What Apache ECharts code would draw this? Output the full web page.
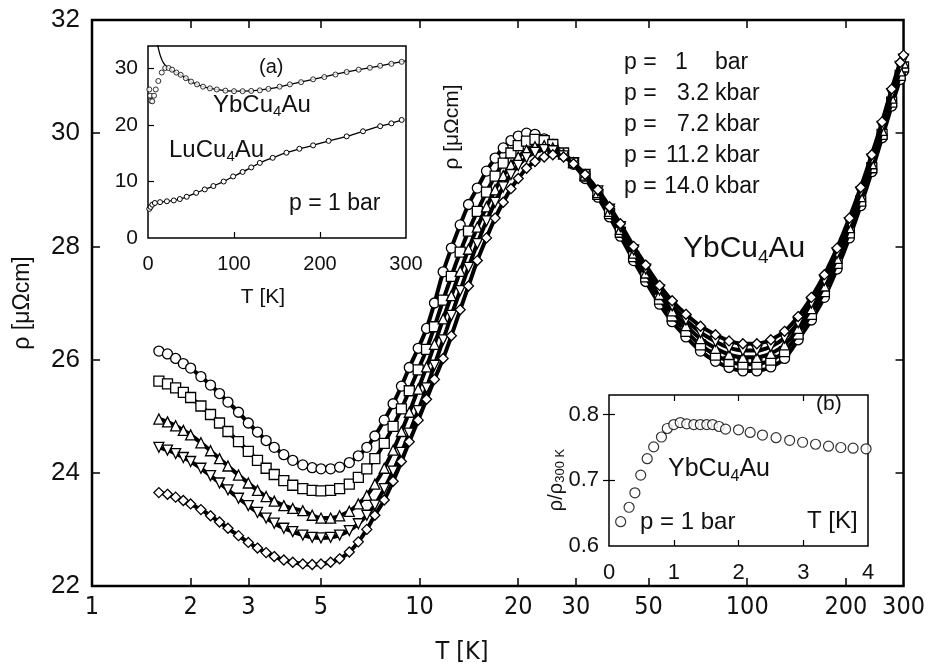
<!DOCTYPE html>
<html>
<head>
<meta charset="utf-8">
<script src="https://cdn.jsdelivr.net/npm/echarts@6/dist/echarts.min.js"></script>
<style>
html, body { margin: 0; padding: 0; background: #fff; }
#chart { width: 928px; height: 669px; }
</style>
</head>
<body>
<div id="chart"></div>
<script>
// main panel: resistivity vs T (log) for five pressures
const temps = [
  1.6, 1.7, 1.8, 1.9, 2.0, 2.15, 2.3, 2.45, 2.6, 2.8,
  3.0, 3.2, 3.4, 3.6, 3.85, 4.1, 4.4, 4.7, 5.0, 5.35,
  5.7, 6.1, 6.5, 6.9, 7.3, 7.8, 8.3, 8.8, 9.3, 9.9,
  10.5, 11.1, 11.8, 12.5, 13.3, 14.1, 15.0, 16.0, 17.0, 18.0,
  19.0, 20.0, 21.2, 22.5, 24, 25.5, 27.5, 29.5, 32, 35,
  38, 41, 45, 49, 54, 59, 65, 72, 80, 88,
  97, 107, 118, 130, 143, 157, 172, 188, 205, 222,
  240, 258, 276, 293, 300
];
const rho1bar = [
  26.15, 26.10, 26.02, 25.93, 25.85, 25.70, 25.55, 25.40, 25.25, 25.07,
  24.88, 24.72, 24.57, 24.45, 24.32, 24.22, 24.14, 24.09, 24.07, 24.07,
  24.10, 24.18, 24.30, 24.45, 24.65, 24.93, 25.22, 25.53, 25.86, 26.20,
  26.55, 27.00, 27.55, 27.97, 28.38, 28.74, 29.03, 29.33, 29.56, 29.74,
  29.87, 29.95, 30.00, 29.98, 29.90, 29.80, 29.63, 29.45, 29.20, 28.87,
  28.52, 28.18, 27.75, 27.38, 26.98, 26.67, 26.40, 26.15, 25.97, 25.86,
  25.80, 25.80, 25.87, 26.02, 26.35, 26.70, 27.10, 27.60, 28.15, 28.72,
  29.32, 29.92, 30.48, 30.95, 31.10
];
const rho3kbar = [
  25.62, 25.57, 25.50, 25.42, 25.33, 25.18, 25.03, 24.88, 24.73, 24.55,
  24.38, 24.22, 24.08, 23.97, 23.86, 23.78, 23.72, 23.69, 23.68, 23.69,
  23.72, 23.80, 23.92, 24.07, 24.25, 24.52, 24.82, 25.13, 25.45, 25.82,
  26.18, 26.58, 27.05, 27.47, 27.90, 28.27, 28.62, 28.96, 29.24, 29.47,
  29.65, 29.78, 29.86, 29.89, 29.87, 29.80, 29.65, 29.48, 29.24, 28.92,
  28.58, 28.25, 27.82, 27.46, 27.07, 26.77, 26.50, 26.26, 26.08, 25.97,
  25.92, 25.92, 25.99, 26.14, 26.45, 26.80, 27.20, 27.70, 28.24, 28.80,
  29.39, 29.98, 30.55, 31.02, 31.17
];
const rho7kbar = [
  24.95, 24.90, 24.83, 24.75, 24.67, 24.53, 24.39, 24.25, 24.12, 23.96,
  23.82, 23.69, 23.58, 23.50, 23.42, 23.37, 23.33, 23.25, 23.20, 23.20,
  23.24, 23.32, 23.45, 23.60, 23.80, 24.08, 24.40, 24.73, 25.07, 25.48,
  25.87, 26.27, 26.72, 27.13, 27.56, 27.95, 28.34, 28.70, 29.00, 29.25,
  29.44, 29.58, 29.70, 29.76, 29.78, 29.74, 29.63, 29.48, 29.26, 28.95,
  28.62, 28.30, 27.88, 27.53, 27.15, 26.86, 26.60, 26.37, 26.20, 26.09,
  26.04, 26.04, 26.11, 26.26, 26.55, 26.90, 27.30, 27.79, 28.33, 28.88,
  29.46, 30.05, 30.62, 31.10, 31.24
];
const rho11kbar = [
  24.45, 24.40, 24.34, 24.27, 24.20, 24.08, 23.95, 23.82, 23.70, 23.55,
  23.42, 23.30, 23.20, 23.11, 23.02, 22.96, 22.90, 22.86, 22.85, 22.86,
  22.90, 22.98, 23.10, 23.25, 23.43, 23.72, 24.03, 24.36, 24.70, 25.10,
  25.50, 25.90, 26.35, 26.78, 27.22, 27.63, 28.05, 28.45, 28.78, 29.05,
  29.27, 29.43, 29.57, 29.66, 29.71, 29.69, 29.60, 29.47, 29.27, 28.98,
  28.66, 28.35, 27.94, 27.60, 27.23, 26.95, 26.70, 26.48, 26.32, 26.21,
  26.16, 26.16, 26.23, 26.38, 26.65, 27.00, 27.40, 27.88, 28.42, 28.96,
  29.54, 30.12, 30.70, 31.18, 31.31
];
const rho14kbar = [
  23.65, 23.62, 23.57, 23.51, 23.45, 23.35, 23.24, 23.13, 23.02, 22.89,
  22.77, 22.67, 22.59, 22.52, 22.46, 22.42, 22.39, 22.38, 22.39, 22.42,
  22.48, 22.60, 22.78, 23.00, 23.25, 23.52, 23.85, 24.20, 24.55, 24.93,
  25.30, 25.65, 26.02, 26.42, 26.88, 27.30, 27.75, 28.15, 28.50, 28.78,
  29.02, 29.20, 29.38, 29.50, 29.58, 29.62, 29.58, 29.46, 29.27, 29.00,
  28.70, 28.40, 28.00, 27.67, 27.31, 27.04, 26.80, 26.59, 26.44, 26.33,
  26.28, 26.28, 26.35, 26.50, 26.76, 27.10, 27.50, 27.97, 28.50, 29.04,
  29.62, 30.20, 30.78, 31.25, 31.38
];
const xLabelValues = [1, 2, 3, 5, 10, 20, 30, 50, 100, 200, 300];
const xTickValues = [2, 3, 5, 10, 20, 30, 50, 100, 200];
const pressureNames = ['1', '3.2', '7.2', '11.2', '14.0'];
const pressureUnits = ['bar', 'kbar', 'kbar', 'kbar', 'kbar'];

// inset (a): 0-300 K, linear
const insetYbTemps = [1.5, 2.5, 3.5, 5, 7, 9, 12, 16, 20, 24, 28, 33, 38, 44, 50, 57, 64, 72, 80, 90,
  100, 110, 120, 130, 140, 153, 165, 178, 192, 205, 218, 231, 245, 258, 270, 283, 295];
const insetYbRho = [26.3, 25.2, 24.3, 24.2, 25.2, 26.3, 27.8, 29.3, 30.1, 30.1, 29.8, 29.3, 28.9, 28.3, 27.7, 27.2, 26.8, 26.5, 26.3, 26.1,
  26.0, 26.0, 26.05, 26.15, 26.4, 26.8, 27.2, 27.6, 28.1, 28.5, 28.95, 29.4, 29.8, 30.15, 30.5, 30.85, 31.2];
const insetLuTemps = [1.5, 3, 5, 8, 14, 22, 30, 37, 45, 56, 66, 76, 88, 99, 110, 120, 130, 145, 161, 176,
  192, 210, 231, 250, 270, 283, 295];
const insetLuRho = [5.15, 5.5, 5.9, 6.2, 6.35, 6.5, 6.65, 6.9, 7.3, 8.0, 8.6, 9.2, 10.0, 10.9, 11.7, 12.5, 13.3, 14.2, 15.1, 15.8,
  16.4, 17.2, 18.0, 18.9, 19.8, 20.3, 20.9];
const fitTemps = [11, 13, 15, 18, 22, 27, 33, 40, 50, 64, 80, 100, 120, 140, 165, 192, 231, 270, 300];
const fitRho = [34.3, 33.0, 32.0, 31.0, 30.3, 29.8, 29.3, 28.7, 27.7, 26.8, 26.3, 26.0, 26.05, 26.4, 27.2, 28.1, 29.4, 30.5, 31.35];

// inset (b): normalised resistivity, 0-4 K
const insetBTemps = [0.18, 0.31, 0.40, 0.49, 0.59, 0.69, 0.81, 0.90, 1.0, 1.1, 1.2, 1.31, 1.41, 1.51,
  1.6, 1.7, 1.8, 2.0, 2.18, 2.37, 2.58, 2.79, 2.99, 3.19, 3.39, 3.58, 3.77, 3.97];
const insetBRatio = [0.637, 0.659, 0.681, 0.708, 0.733, 0.751, 0.766, 0.779, 0.785, 0.788, 0.786, 0.785, 0.785, 0.785,
  0.785, 0.782, 0.778, 0.777, 0.773, 0.769, 0.765, 0.761, 0.758, 0.755, 0.752, 0.750, 0.749, 0.748];

const FONT = '"Liberation Sans", Arial, Helvetica, sans-serif';
const NARROW = '"Liberation Sans Narrow", "DejaVu Sans Condensed", Arial, sans-serif';
const INK = '#111';
const pairs = (xs, ys) => xs.map((x, i) => [x, ys[i]]);

const chart = echarts.init(document.getElementById('chart'));

const mainSymbols = [
  { data: rho1bar, symbol: 'circle', rotate: 0 },
  { data: rho3kbar, symbol: 'rect', rotate: 0 },
  { data: rho7kbar, symbol: 'triangle', rotate: 0 },
  { data: rho11kbar, symbol: 'triangle', rotate: 180 },
  { data: rho14kbar, symbol: 'diamond', rotate: 0 }
];

const mainSeries = mainSymbols.map((s, i) => ({
  name: 'p = ' + pressureNames[i] + ' ' + pressureUnits[i],
  type: 'line',
  xAxisIndex: 0,
  yAxisIndex: 0,
  data: pairs(temps, s.data),
  smooth: 0.3,
  showAllSymbol: true,
  symbol: s.symbol,
  symbolRotate: s.rotate,
  symbolSize: 10,
  lineStyle: { color: '#000', width: 4 },
  itemStyle: { color: '#fff', borderColor: '#000', borderWidth: 1.3 },
  z: 3 + i
}));

const tickStyle = { inside: true, length: 8, lineStyle: { color: '#000', width: 1.5 } };
const smallTick = { inside: true, length: 6, lineStyle: { color: '#000', width: 1.2 } };

// pressure list, three columns: "p =", value, unit
const legendText = [];
pressureNames.forEach((p, i) => {
  const top = 51 + i * 31;
  const font = '23px ' + FONT;
  legendText.push({ type: 'text', left: 624, top: top, style: { text: 'p =', font: font, fill: INK } });
  if (p === '1') {
    legendText.push({ type: 'text', left: 675, top: top, style: { text: p, font: font, fill: INK } });
  } else {
    legendText.push({ type: 'text', right: 928 - 709, top: top, style: { text: p, font: font, fill: INK } });
  }
  legendText.push({ type: 'text', left: 715, top: top, style: { text: pressureUnits[i], font: font, fill: INK } });
});

const label = (x, y, size, txt, extra) => Object.assign({
  type: 'text', left: x, top: y, z: 20,
  style: { text: txt, font: size + 'px ' + FONT, fill: INK }
}, extra || {});

const compound = (x, y, size, txt1, sub, txt2) => ({
  type: 'text', left: x, top: y, z: 20,
  style: {
    text: '{a|' + txt1 + '}{b|' + sub + '}{a|' + txt2 + '}',
    rich: {
      a: { font: size + 'px ' + FONT, fill: INK, lineHeight: size * 1.2 },
      b: { font: Math.round(size * 0.62) + 'px ' + FONT, fill: INK, lineHeight: size * 1.2, verticalAlign: 'bottom', padding: [Math.round(size * 0.45), 0, 0, 0] }
    }
  }
});

const option = {
  animation: false,
  backgroundColor: '#fff',
  grid: [
    { left: 92, top: 20, right: 21, bottom: 83, show: true, borderColor: '#000', borderWidth: 2.5, backgroundColor: 'transparent' },
    { left: 148, top: 46, width: 258, height: 192, show: true, borderColor: '#000', borderWidth: 1.5, backgroundColor: '#fff' },
    { left: 609, top: 395, width: 259, height: 151, show: true, borderColor: '#000', borderWidth: 1.5, backgroundColor: '#fff' }
  ],
  xAxis: [
    {
      type: 'log', gridIndex: 0, min: 1, max: 300, logBase: 10,
      axisLine: { show: false },
      axisTick: Object.assign({ customValues: xTickValues }, tickStyle),
      minorTick: { show: false },
      splitLine: { show: false },
      axisLabel: { customValues: xLabelValues, margin: 9, fontFamily: NARROW, fontSize: 25, color: INK }
    },
    {
      type: 'log', gridIndex: 0, min: 1, max: 300, logBase: 10, position: 'top',
      axisLine: { show: false },
      axisTick: Object.assign({ customValues: xTickValues }, tickStyle),
      splitLine: { show: false },
      axisLabel: { show: false }
    },
    {
      type: 'value', gridIndex: 1, min: 0, max: 300, interval: 100,
      axisLine: { show: false },
      axisTick: Object.assign({ customValues: [100, 200] }, smallTick),
      splitLine: { show: false },
      axisLabel: { customValues: [0, 100, 200, 300], margin: 16, fontFamily: FONT, fontSize: 20, color: INK }
    },
    {
      type: 'value', gridIndex: 2, min: 0, max: 4, interval: 1,
      axisLine: { show: false },
      axisTick: Object.assign({ customValues: [1, 2, 3] }, smallTick),
      splitLine: { show: false },
      axisLabel: { customValues: [0, 1, 2, 3, 4], margin: 16, fontFamily: FONT, fontSize: 22, color: INK }
    },
    {
      type: 'value', gridIndex: 2, min: 0, max: 4, interval: 1, position: 'top',
      axisLine: { show: false },
      axisTick: Object.assign({ customValues: [1, 2, 3] }, smallTick),
      splitLine: { show: false },
      axisLabel: { show: false }
    }
  ],
  yAxis: [
    {
      type: 'value', gridIndex: 0, min: 22, max: 32, interval: 2,
      name: 'ρ [μΩcm]', nameLocation: 'middle', nameGap: 58,
      nameTextStyle: { fontFamily: FONT, fontSize: 23, color: INK },
      axisLine: { show: false },
      axisTick: Object.assign({ customValues: [24, 26, 28, 30] }, tickStyle),
      splitLine: { show: false },
      axisLabel: { customValues: [22, 24, 26, 28, 30, 32], margin: 12, fontFamily: FONT, fontSize: 26, color: INK }
    },
    {
      type: 'value', gridIndex: 0, min: 22, max: 32, interval: 2, position: 'right',
      axisLine: { show: false },
      axisTick: Object.assign({ customValues: [24, 26, 28, 30] }, tickStyle),
      splitLine: { show: false },
      axisLabel: { show: false }
    },
    {
      type: 'value', gridIndex: 1, min: 0, max: 34, interval: 10,
      axisLine: { show: false },
      axisTick: Object.assign({ customValues: [10, 20, 30] }, smallTick),
      splitLine: { show: false },
      axisLabel: { customValues: [0, 10, 20, 30], margin: 10, fontFamily: FONT, fontSize: 21, color: INK }
    },
    {
      type: 'value', gridIndex: 2, min: 0.6, max: 0.83, interval: 0.1,
      axisLine: { show: false },
      axisTick: Object.assign({ customValues: [0.7, 0.8] }, smallTick),
      splitLine: { show: false },
      axisLabel: { customValues: [0.6, 0.7, 0.8], margin: 10, fontFamily: FONT, fontSize: 22, color: INK }
    },
    {
      type: 'value', gridIndex: 2, min: 0.6, max: 0.83, interval: 0.1, position: 'right',
      axisLine: { show: false },
      axisTick: Object.assign({ customValues: [0.7, 0.8] }, smallTick),
      splitLine: { show: false },
      axisLabel: { show: false }
    }
  ],
  series: mainSeries.concat([
    {
      name: 'YbCu4Au fit', type: 'line', xAxisIndex: 2, yAxisIndex: 2,
      data: pairs(fitTemps, fitRho), smooth: 0.4, showSymbol: false,
      lineStyle: { color: '#000', width: 1.3 }, z: 10
    },
    {
      name: 'YbCu4Au', type: 'scatter', xAxisIndex: 2, yAxisIndex: 2,
      data: pairs(insetYbTemps, insetYbRho), symbol: 'circle', symbolSize: 5,
      itemStyle: { color: '#fff', borderColor: '#000', borderWidth: 1 }, z: 11
    },
    {
      name: 'LuCu4Au', type: 'line', xAxisIndex: 2, yAxisIndex: 2,
      data: pairs(insetLuTemps, insetLuRho), smooth: 0.3, showAllSymbol: true,
      symbol: 'circle', symbolSize: 5,
      lineStyle: { color: '#000', width: 1.3 },
      itemStyle: { color: '#fff', borderColor: '#000', borderWidth: 1 }, z: 11
    },
    {
      name: 'rho/rho300K', type: 'scatter', xAxisIndex: 3, yAxisIndex: 3,
      data: pairs(insetBTemps, insetBRatio), symbol: 'circle', symbolSize: 10,
      itemStyle: { color: '#fff', borderColor: '#000', borderWidth: 1.2 }, z: 11
    }
  ]),
  graphic: legendText.concat([
    compound(683, 234, 30, 'YbCu', '4', 'Au'),
    {
      type: 'text', x: 452, y: 127, rotation: Math.PI / 2,
      style: { text: 'ρ [μΩcm]', font: '21px ' + FONT, fill: INK, align: 'center', verticalAlign: 'middle' }
    },
    {
      type: 'text', x: 462, y: 652,
      style: { text: 'T [K]', font: '25px ' + NARROW, fill: INK, align: 'center', verticalAlign: 'middle' }
    },
    {
      type: 'text', x: 263, y: 297,
      style: { text: 'T [K]', font: '21px ' + FONT, fill: INK, align: 'center', verticalAlign: 'middle' }
    },
    label(259, 57, 20, '(a)'),
    compound(213, 93, 24, 'YbCu', '4', 'Au'),
    compound(169, 138, 24, 'LuCu', '4', 'Au'),
    label(289, 192, 23, 'p = 1 bar'),
    label(816, 394, 21, '(b)'),
    compound(668, 457, 25, 'YbCu', '4', 'Au'),
    label(640, 510, 24, 'p = 1 bar'),
    label(807, 509, 24, 'T [K]'),
    {
      type: 'text', x: 556, y: 480, rotation: Math.PI / 2,
      style: {
        text: '{a|ρ/ρ}{b|300 K}', align: 'center', verticalAlign: 'middle',
        rich: {
          a: { font: '20px ' + FONT, fill: INK, lineHeight: 22 },
          b: { font: '13px ' + FONT, fill: INK, lineHeight: 22, verticalAlign: 'bottom', padding: [9, 0, 0, 0] }
        }
      }
    }
  ])
};

chart.setOption(option);
</script>
</body>
</html>
